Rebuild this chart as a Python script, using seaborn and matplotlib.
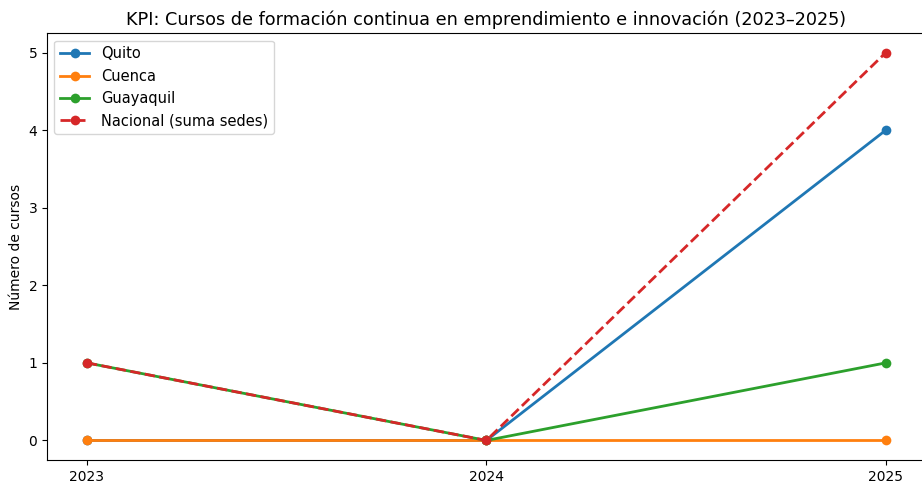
import pandas as pd
import seaborn as sns
import matplotlib.pyplot as plt

years = [2023, 2024, 2025]
quito = [0, 0, 4]
cuenca = [0, 0, 0]
guayaquil = [1, 0, 1]
nacional = [1, 0, 5]

series = {
    "Quito": quito,
    "Cuenca": cuenca,
    "Guayaquil": guayaquil,
    "Nacional (suma sedes)": nacional,
}
colors = sns.color_palette("tab10", 4)

fig, ax = plt.subplots(figsize=(9.22, 4.82), dpi=100)
for (name, vals), c in zip(series.items(), colors):
    df = pd.DataFrame({"year": years, "value": vals})
    ls = "--" if name.startswith("Nacional") else "-"
    sns.lineplot(data=df, x="year", y="value", marker="o", markeredgewidth=0,
                 markersize=7, linewidth=2, color=c, linestyle=ls, label=name, ax=ax)

ax.set_xticks(years)
ax.set_xlabel("")
ax.set_ylabel("Número de cursos")
ax.set_title("KPI: Cursos de formación continua en emprendimiento e innovación (2023–2025)",
             fontsize=12.7)
ax.legend(loc="upper left", fontsize=10.5)
fig.subplots_adjust(left=0.051, right=1.004, top=0.931, bottom=0.046)
fig.savefig("out.png", dpi=100)
